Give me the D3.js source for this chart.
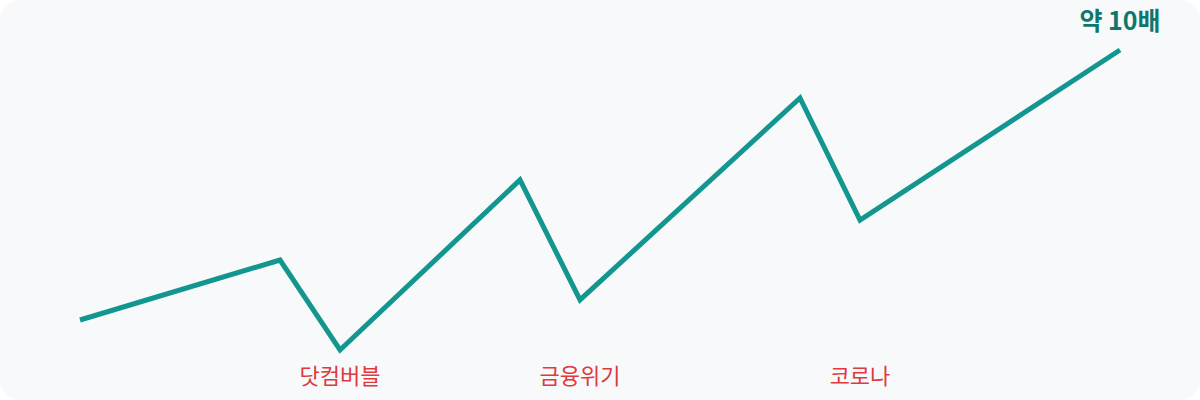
<!DOCTYPE html>
<html><head><meta charset="utf-8">
<script src="https://cdn.jsdelivr.net/npm/d3@7"></script>
<style>html,body{margin:0;padding:0;background:#fff;}svg{display:block;}</style>
</head><body>
<svg id="chart" width="1200" height="400"></svg>
<script>
const periods = [0, 10, 13, 22, 25, 36, 39, 52];
const values = [10, 30, 0, 56.7, 16.7, 84, 43.3, 100];
const eventLabels = ["닷컴버블", "금융위기", "코로나"];
const eventPeriods = [13, 25, 39];
const endLabel = "약 10배";

const svg = d3.select("#chart");
svg.append("rect").attr("x",0).attr("y",0).attr("width",1200).attr("height",400)
  .attr("rx",20).attr("ry",20).attr("fill","#f7f9fb");

const x = d3.scaleLinear().domain([0,52]).range([80,1120]);
const y = d3.scaleLinear().domain([0,100]).range([350,50]);

const data = periods.map((p,i)=>({p, v: values[i]}));
svg.append("path").datum(data)
  .attr("fill","none").attr("stroke","#12968f").attr("stroke-width",5)
  .attr("stroke-linejoin","miter")
  .attr("d", d3.line().x(d=>x(d.p)).y(d=>y(d.v)));

svg.selectAll(".ev").data(eventLabels).enter().append("text")
  .attr("x",(d,i)=>x(eventPeriods[i])).attr("y",384)
  .attr("text-anchor","middle").attr("fill","#e0393e")
  .style("font-family","'Noto Sans CJK KR', sans-serif").style("font-size","22px")
  .text(d=>d);

svg.append("text").attr("x",x(52)).attr("y",30).attr("text-anchor","middle")
  .attr("fill","#0f766e").style("font-family","'Noto Sans CJK KR', sans-serif")
  .style("font-size","25px").style("font-weight","bold").text(endLabel);
</script>
</body></html>
